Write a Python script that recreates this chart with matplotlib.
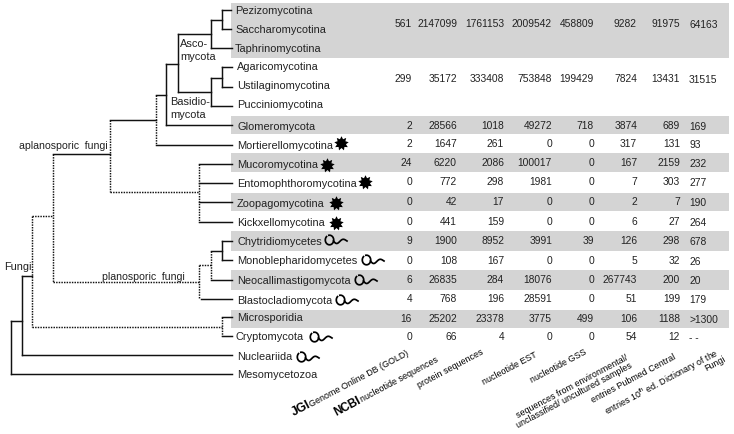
import numpy as np
import matplotlib
matplotlib.use("Agg")
import matplotlib.pyplot as plt
from matplotlib.path import Path

plt.rcParams["font.family"] = ["Liberation Sans", "DejaVu Sans"]
plt.rcParams["mathtext.fontset"] = "custom"
plt.rcParams["mathtext.rm"] = "Liberation Sans"

# ── data ──────────────────────────────────────────────────────────────────────

taxa = ["Pezizomycotina", "Saccharomycotina", "Taphrinomycotina",
        "Agaricomycotina", "Ustilaginomycotina", "Pucciniomycotina",
        "Glomeromycota", "Mortierellomycotina", "Mucoromycotina",
        "Entomophthoromycotina", "Zoopagomycotina", "Kickxellomycotina",
        "Chytridiomycetes", "Monoblepharidomycetes", "Neocallimastigomycota",
        "Blastocladiomycota", "Microsporidia", "Cryptomycota",
        "Nucleariida", "Mesomycetozoa"]
taxa_y = [11, 30, 49, 67, 86, 105, 127, 146, 165, 184, 204, 223,
          242, 261, 281, 301, 318, 337, 357, 375]

gold = ["561", "299", "2", "2", "24", "0", "0", "0", "9", "0", "6", "4", "16", "0"]
nucleotide = ["2147099", "35172", "28566", "1647", "6220", "772", "42", "441",
              "1900", "108", "26835", "768", "25202", "66"]
protein = ["1761153", "333408", "1018", "261", "2086", "298", "17", "159",
           "8952", "167", "284", "196", "23378", "4"]
est = ["2009542", "753848", "49272", "0", "100017", "1981", "0", "0",
       "3991", "0", "18076", "28591", "3775", "0"]
gss = ["458809", "199429", "718", "0", "0", "0", "0", "0",
       "39", "0", "0", "0", "499", "0"]
environmental = ["9282", "7824", "3874", "317", "167", "7", "2", "6",
                 "126", "5", "267743", "51", "106", "54"]
pubmed = ["91975", "13431", "689", "131", "2159", "303", "7", "27",
          "298", "32", "200", "199", "1188", "12"]
dictionary = ["64163", "31515", "169", "93", "232", "277", "190", "264",
              "678", "26", "20", "179", ">1300", "- -"]
table_y = [24, 79, 126, 144, 163, 182, 202, 222, 241, 261, 280, 299, 319, 337]

star_taxa = {"Mortierellomycotina": (341, 144), "Mucoromycotina": (327, 166),
             "Entomophthoromycotina": (365, 183), "Zoopagomycotina": (336, 204),
             "Kickxellomycotina": (336, 224)}
flagellum_taxa = {"Chytridiomycetes": (325, 241), "Monoblepharidomycetes": (362, 261),
                  "Neocallimastigomycota": (355, 281), "Blastocladiomycota": (336, 301),
                  "Cryptomycota": (310, 338), "Nucleariida": (297, 358)}

# ── figure ────────────────────────────────────────────────────────────────────

fig = plt.figure(figsize=(7.34, 4.35), dpi=100)
ax = fig.add_axes([0, 0, 1, 1])
ax.set_xlim(0, 734)
ax.set_ylim(435, 0)
ax.axis("off")

# grey table bands
for top, bottom in [(4, 59), (117, 135), (154, 173), (194, 212),
                    (232, 252), (271, 291), (311, 329)]:
    ax.fill_between([231, 729], top, bottom, color="#d4d4d4", lw=0, zorder=0)

# ── tree ──────────────────────────────────────────────────────────────────────

solid = [
    (222, 11, 231, 11), (222, 30, 231, 30), (222, 11, 222, 30),
    (211, 20.5, 222, 20.5), (211, 20.5, 211, 49), (211, 49, 232, 49),
    (178, 35, 211, 35), (178, 35, 178, 93), (178, 93, 211, 93),
    (211, 79, 211, 107), (211, 107, 232, 107), (211, 79, 222, 79),
    (222, 68, 222, 88), (222, 68, 232, 68), (222, 88, 232, 88),
    (166, 65, 178, 65), (166, 65, 166, 126), (166, 126, 232, 126),
    (156, 95.5, 166, 95.5), (156, 146, 232, 146),
    (110, 121, 156, 121), (53, 154.5, 110, 154.5),
    (199, 165, 232, 165), (199, 184, 232, 184), (199, 203, 232, 203),
    (199, 223, 232, 223),
    (222, 242, 222, 261), (222, 242, 232, 242), (222, 261, 232, 261),
    (211, 252, 222, 252), (211, 281, 232, 281), (201, 300, 232, 300),
    (222, 318, 232, 318), (222, 337, 232, 337),
    (22, 277, 32, 277), (22, 277, 22, 356), (22, 356, 232, 356),
    (11, 322, 22, 322), (11, 322, 11, 375), (11, 375, 232, 375),
]
dotted = [
    (156, 95.5, 156, 146), (110, 121, 110, 193), (110, 193, 199, 193),
    (199, 165, 199, 223), (53, 154.5, 53, 283), (32, 217, 53, 217),
    (53, 283, 199, 283), (199, 266, 199, 300), (199, 266, 211, 266),
    (211, 252, 211, 281), (32, 217, 32, 328), (32, 328, 222, 328),
    (222, 318, 222, 337),
]
for x0, y0, x1, y1 in solid:
    ax.plot([x0, x1], [y0, y1], color="#111111", lw=1.05, solid_capstyle="projecting")
for x0, y0, x1, y1 in dotted:
    ax.plot([x0, x1], [y0, y1], color="#111111", lw=1.05, linestyle=(0, (1, 0.8)))

for name, y in zip(taxa, taxa_y):
    x = 235 if name in taxa[:3] or name == "Cryptomycota" else 237
    ax.text(x, y, name, fontsize=7.9, va="center", ha="left", color="#222222")

for x, y, s, size in [(180, 44, "Asco-", 7.9), (180, 57, "mycota", 7.9),
                      (170, 102, "Basidio-", 7.9), (170, 115, "mycota", 7.9),
                      (19, 146, "aplanosporic  fungi", 7.6),
                      (102, 277, "planosporic  fungi", 7.6), (4, 267, "Fungi", 7.9)]:
    ax.text(x, y, s, fontsize=size, va="center", ha="left", color="#222222")

# ── table ─────────────────────────────────────────────────────────────────────

columns = [gold, nucleotide, protein, est, gss, environmental, pubmed]
right_edges = [412, 457, 504, 552, 594, 637, 680]
for values, x in zip(columns, right_edges):
    for value, y in zip(values, table_y):
        ax.text(x, y, value, fontsize=7.4, ha="right", va="center", color="#222222")
for value, y in zip(dictionary, table_y):
    ax.text(689, y + 1, value, fontsize=7.4, ha="left", va="center", color="#222222")

# ── rotated column headers ────────────────────────────────────────────────────

headers = [
    (294, 416, "JGI", 9, "bold"), (311, 407, "Genome Online DB (GOLD)", 6.4, "normal"),
    (336, 416, "NCBI", 8.5, "bold"), (362, 402, "nucleotide sequences", 6.4, "normal"),
    (419, 388, "protein sequences", 6.4, "normal"),
    (484, 385, "nucleotide EST", 6.4, "normal"),
    (532, 383, "nucleotide GSS", 6.4, "normal"),
    (518, 418, "sequences from environmental/", 6.4, "normal"),
    (518, 428, "unclassified/ uncultured samples", 6.4, "normal"),
    (593, 403, "entries Pubmed Central", 6.4, "normal"),
    (607, 415, r"entries 10$^{\mathrm{th}}$ ed. Dictionary of the", 6.4, "normal"),
    (706, 371, "Fungi", 6.4, "normal"),
]
for x, y, s, size, weight in headers:
    ax.text(x, y, s, fontsize=size, fontweight=weight, rotation=28, ha="left",
            va="baseline", rotation_mode="anchor", color="black")

# ── icons ─────────────────────────────────────────────────────────────────────

# spiky spore
angles = np.linspace(0, 2 * np.pi, 19)[:-1] + np.pi / 2
radii = np.where(np.arange(18) % 2 == 0, 1.0, 0.62)
spore = Path(np.c_[radii * np.cos(angles), radii * np.sin(angles)])
for x, y in star_taxa.values():
    ax.scatter(x, y, marker=spore, s=110, color="black", lw=0, zorder=3)

# flagellated spore: open loop with a wavy tail
t = np.linspace(0.25 * np.pi, 2.05 * np.pi, 40)
loop_x, loop_y = 4.5 + 4.2 * np.cos(t + np.pi / 2), 4.8 * np.sin(t + np.pi / 2) * -1
tail_x = np.linspace(8.5, 22, 30)
tail_y = 2.6 * np.sin((tail_x - 8.5) / 13.5 * 2 * np.pi) * np.linspace(1.1, 0.5, 30) + 1
for x, y in flagellum_taxa.values():
    ax.plot(x + loop_x, y + loop_y, color="black", lw=1.25)
    ax.plot(x + tail_x, y + tail_y, color="black", lw=1.25)

fig.savefig("out.png", dpi=100)
